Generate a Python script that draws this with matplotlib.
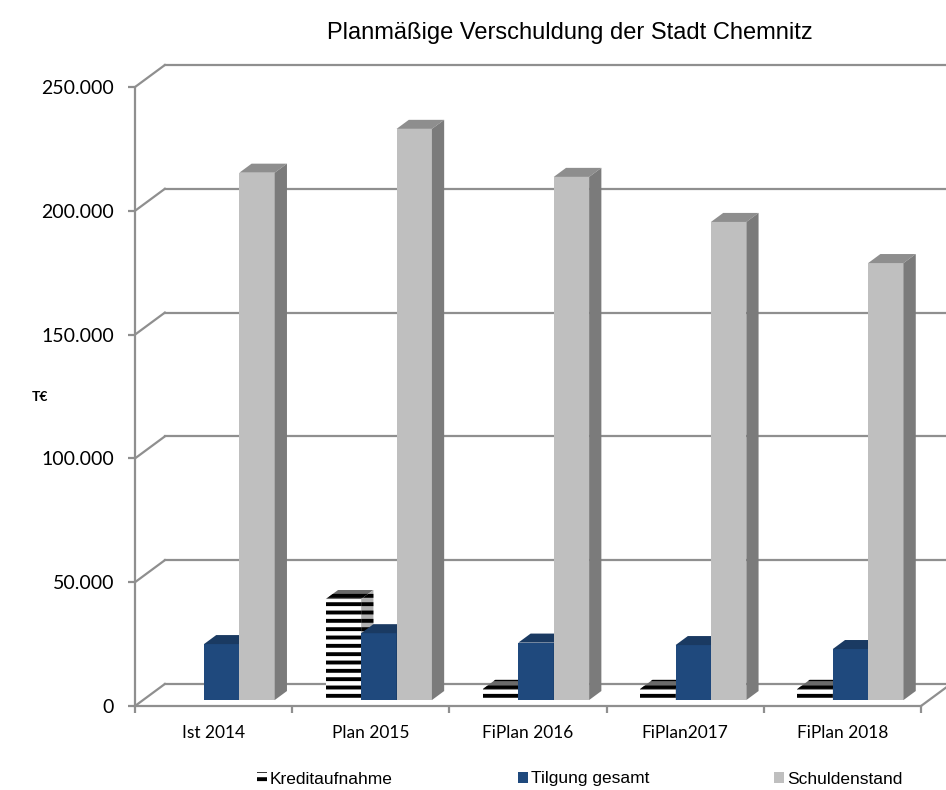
import numpy as np
import matplotlib.pyplot as plt
from matplotlib.patches import Polygon, Patch

plt.rcParams['hatch.linewidth'] = 2.8
plt.rcParams['hatch.color'] = 'black'

# data (T€)
CATEGORIES = ['Ist 2014', 'Plan 2015', 'FiPlan 2016', 'FiPlan2017', 'FiPlan 2018']
KREDIT = [0, 40800, 4500, 4500, 4500]
TILGUNG = [22600, 27000, 23200, 22200, 20600]
SCHULDEN = [213000, 230700, 211300, 193100, 176500]
SERIES_NAMES = ['Kreditaufnahme', 'Tilgung gesamt', 'Schuldenstand']
Y_TICKS = [0, 50000, 100000, 150000, 200000, 250000]

# pseudo 3d settings
WDX = 0.19      # wall depth in category units
WDY = 8900      # wall depth in value units
Z0, Z1 = 0.27, 0.68
BW = 0.225
GRID = '#8f8f8f'

# front, top, side colours per series
COLORS = [('white', '#6a6a6a', '#b0b0b0'),
          ('#1f497d', '#1a3a62', '#163459'),
          ('#bfbfbf', '#8e8e8e', '#7b7b7b')]

fig = plt.figure(figsize=(9.46, 7.9), dpi=100)
ax = fig.add_axes([135 / 946, 70 / 790, 811 / 946, 680 / 790])
ax.set_xlim(-0.5, -0.5 + 811 / 157.2)
ax.set_ylim(-14 * 403.9, 666 * 403.9)

# walls
n = len(CATEGORIES)
for v in Y_TICKS:
    ax.plot([-0.5, -0.5 + WDX], [v, v + WDY], color=GRID, lw=1.6, zorder=1)
    ax.plot([-0.5 + WDX, n - 0.5 + WDX + 1], [v + WDY, v + WDY], color=GRID, lw=1.6, zorder=1)
ax.plot([n - 0.5, n - 0.5 + WDX], [0, WDY], color=GRID, lw=1.6, zorder=1)

# bars
x = np.arange(n)
dbx = (Z1 - Z0) * WDX
dby = (Z1 - Z0) * WDY
for j, vals in enumerate([KREDIT, TILGUNG, SCHULDEN]):
    front, top, side = COLORS[j]
    hatch = '--' if j == 0 else None
    for i in range(n):
        h = vals[i]
        if h <= 0:
            continue
        xl = x[i] + (j - 1.5) * BW + Z0 * WDX
        y0 = Z0 * WDY
        zo = 3 + i * 3 + j
        ax.bar(xl, h, width=BW, bottom=y0, align='edge', color=front,
               hatch=hatch, edgecolor='black' if hatch else front, lw=0, zorder=zo)
        xr = xl + BW
        ax.add_patch(Polygon([(xl, y0 + h), (xr, y0 + h), (xr + dbx, y0 + h + dby),
                              (xl + dbx, y0 + h + dby)], closed=True, facecolor=top,
                             hatch=hatch, edgecolor='black' if hatch else top, lw=0, zorder=zo))
        ax.add_patch(Polygon([(xr, y0), (xr, y0 + h), (xr + dbx, y0 + h + dby),
                              (xr + dbx, y0 + dby)], closed=True, facecolor=side,
                             hatch=hatch, edgecolor='black' if hatch else side, lw=0, zorder=zo))

# axes
for s in ['top', 'right']:
    ax.spines[s].set_visible(False)
ax.spines['left'].set_bounds(0, 250000)
ax.spines['left'].set_color(GRID)
ax.spines['left'].set_linewidth(1.6)
ax.spines['bottom'].set_position(('data', 0))
ax.spines['bottom'].set_bounds(-0.5, n - 0.5)
ax.spines['bottom'].set_color(GRID)
ax.spines['bottom'].set_linewidth(1.6)

ax.set_yticks(Y_TICKS)
ax.set_yticklabels([f"{v:,}".replace(',', '.') for v in Y_TICKS], fontsize=14, family='Lato')
ax.tick_params(axis='y', length=5, width=1.6, color=GRID, pad=10)

ax.set_xticks(np.arange(n + 1) - 0.5)
ax.set_xticklabels([])
ax.set_xticks(x, minor=True)
ax.set_xticklabels(CATEGORIES, minor=True, fontsize=12.5, family='Lato')
ax.tick_params(axis='x', which='major', length=5, width=1.6, color=GRID)
ax.tick_params(axis='x', which='minor', length=0, pad=14)

fig.text(40 / 946, 1 - 397 / 790, 'T€', fontsize=10, fontweight='bold', family='Lato',
         ha='center', va='center')
fig.text(570 / 946, 1 - 33 / 790, 'Planmäßige Verschuldung der Stadt Chemnitz',
         fontsize=17, family='Liberation Sans', ha='center', va='center')

handles = [Patch(facecolor=COLORS[k][0], hatch='--' if k == 0 else None,
                 edgecolor='black' if k == 0 else COLORS[k][0], lw=0) for k in range(3)]
fig.legend(handles, SERIES_NAMES, loc='center left', bbox_to_anchor=(248 / 946, 1 - 779 / 790),
           ncol=3, frameon=False, prop={'family': 'Liberation Sans', 'size': 12.5},
           borderpad=0, handlelength=0.6, handleheight=0.6, handletextpad=0.15,
           columnspacing=7.2)

fig.savefig('out.png', dpi=100)
